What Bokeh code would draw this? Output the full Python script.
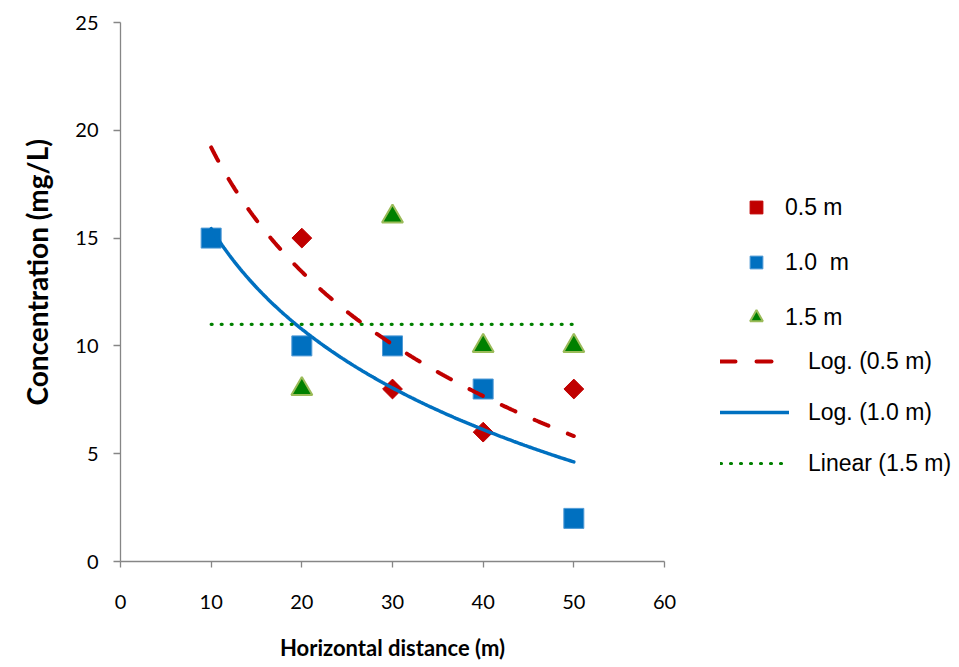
import numpy as np
from bokeh.plotting import figure
from bokeh.layouts import row
from bokeh.models import Range1d, Legend, LegendItem, FixedTicker, Title
from bokeh.embed import file_html
from bokeh.resources import INLINE

# ---- data ----
x_05 = [20, 30, 40, 50]
y_05 = [15, 8, 6, 8]
x_10 = [10, 20, 30, 40, 50]
y_10 = [15, 10, 10, 8, 2]
x_15 = [20, 30, 40, 50]
y_15 = [8, 16, 10, 10]
fit_start, fit_end = 10, 50
x_ticks = [0, 10, 20, 30, 40, 50, 60]
y_ticks = [0, 5, 10, 15, 20, 25]

RED = "#C00000"
BLUE = "#0070C0"
GREEN = "#008000"
LGREEN = "#9BBB59"
AXIS = "#868686"

p = figure(width=700, height=667, output_backend="svg", toolbar_location=None,
           x_range=Range1d(0, 60), y_range=Range1d(0, 25),
           min_border_left=120, min_border_right=36, min_border_top=22, min_border_bottom=106)
p.outline_line_color = None
p.xgrid.visible = False
p.ygrid.visible = False
p.background_fill_color = "white"
p.border_fill_color = "white"

for ax in (p.xaxis[0], p.yaxis[0]):
    ax.axis_line_color = AXIS
    ax.axis_line_width = 1.3
    ax.major_tick_line_color = AXIS
    ax.major_tick_line_width = 1.3
    ax.minor_tick_line_color = None
    ax.major_tick_in = 0
    ax.major_label_text_font = "Lato"
    ax.major_label_text_font_size = "20px"
    ax.major_label_text_color = "#000000"

p.xaxis[0].ticker = FixedTicker(ticks=x_ticks)
p.yaxis[0].ticker = FixedTicker(ticks=y_ticks)
p.xaxis[0].major_tick_out = 6
p.yaxis[0].major_tick_out = 7
p.xaxis[0].major_label_standoff = 27
p.yaxis[0].major_label_standoff = 15
p.xaxis[0].axis_label = "Horizontal distance (m)"
p.xaxis[0].axis_label_text_font = "Lato"
p.xaxis[0].axis_label_text_font_style = "bold"
p.xaxis[0].axis_label_text_font_size = "22px"
p.xaxis[0].axis_label_text_color = "#000000"
p.xaxis[0].axis_label_standoff = 22

ytitle = Title(text="Concentration (mg/L)", align="left", offset=156, standoff=33,
               vertical_align="top",
               text_font="Lato", text_font_style="bold", text_font_size="28px",
               text_color="#000000")
p.add_layout(ytitle, "left")

# ---- markers ----
M05 = dict(marker="square", angle=np.pi / 4, fill_color=RED, line_color=RED)
M10 = dict(marker="square", fill_color=BLUE, line_color="#4F9AD6", line_width=1)
M15 = dict(marker="triangle", fill_color=GREEN, line_color=LGREEN, line_width=2)
p.scatter(x_05, y_05, size=14, **M05)
p.scatter(x_10, y_10, size=20, **M10)
p.scatter(x_15, y_15, size=21, **M15)

# ---- trendlines ----
xf = np.linspace(fit_start, fit_end, 200)
a05, b05 = np.polyfit(np.log(x_05), y_05, 1)
a10, b10 = np.polyfit(np.log(x_10), y_10, 1)
m15, c15 = np.polyfit(x_15, y_15, 1)
fit05 = a05 * np.log(xf) + b05
fit10 = a10 * np.log(xf) + b10
fit15 = m15 * xf + c15

STY05 = dict(line_color=RED, line_width=4, line_dash="15 21", line_cap="round")
STY10 = dict(line_color=BLUE, line_width=3.5, line_cap="round")
STY15 = dict(line_color=GREEN, line_width=3.2, line_dash="1 9", line_cap="round")
p.line(xf, fit05, **STY05)
p.line(xf, fit10, **STY10)
p.line(xf, fit15, **STY15)

# ---- legend panel (separate, frameless figure to the right) ----
# its ranges are far from the data, so its own copies of the series stay off-screen
q = figure(width=259, height=667, output_backend="svg", toolbar_location=None,
           x_range=Range1d(-2, -1), y_range=Range1d(-2, -1),
           x_axis_location=None, y_axis_location=None,
           min_border=0, min_border_left=0, min_border_right=0,
           min_border_top=0, min_border_bottom=0)
q.outline_line_color = None
q.xgrid.visible = False
q.ygrid.visible = False

g05 = q.scatter(x_05, y_05, size=9, **M05)
g10 = q.scatter(x_10, y_10, size=12, **M10)
g15 = q.scatter(x_15, y_15, size=13, **M15)
h05 = q.line(xf, fit05, **STY05)
h10 = q.line(xf, fit10, **STY10)
h15 = q.line(xf, fit15, **STY15)

def mk_legend(items, loc, gw, gh, standoff, spacing):
    return Legend(items=items, location=loc, orientation="vertical",
                  glyph_width=gw, glyph_height=gh, label_height=28,
                  spacing=spacing, padding=0, margin=0, label_standoff=standoff,
                  border_line_color=None, background_fill_alpha=0,
                  label_text_font="Liberation Sans", label_text_font_size="23px",
                  label_text_color="#000000")

leg1 = mk_legend([LegendItem(label="0.5 m", renderers=[g05]),
                  LegendItem(label="1.0  m", renderers=[g10]),
                  LegendItem(label="1.5 m", renderers=[g15])],
                 (40, 228), 32, 32, 13, 23)
leg2 = mk_legend([LegendItem(label="Log. (0.5 m)", renderers=[h05]),
                  LegendItem(label="Log. (1.0 m)", renderers=[h10]),
                  LegendItem(label="Linear (1.5 m)", renderers=[h15])],
                 (20, 84), 69, 28, 19, 23)
q.add_layout(leg1, "center")
q.add_layout(leg2, "center")

layout = row(p, q, spacing=0)
open("out.html", "w").write(file_html(layout, INLINE))
